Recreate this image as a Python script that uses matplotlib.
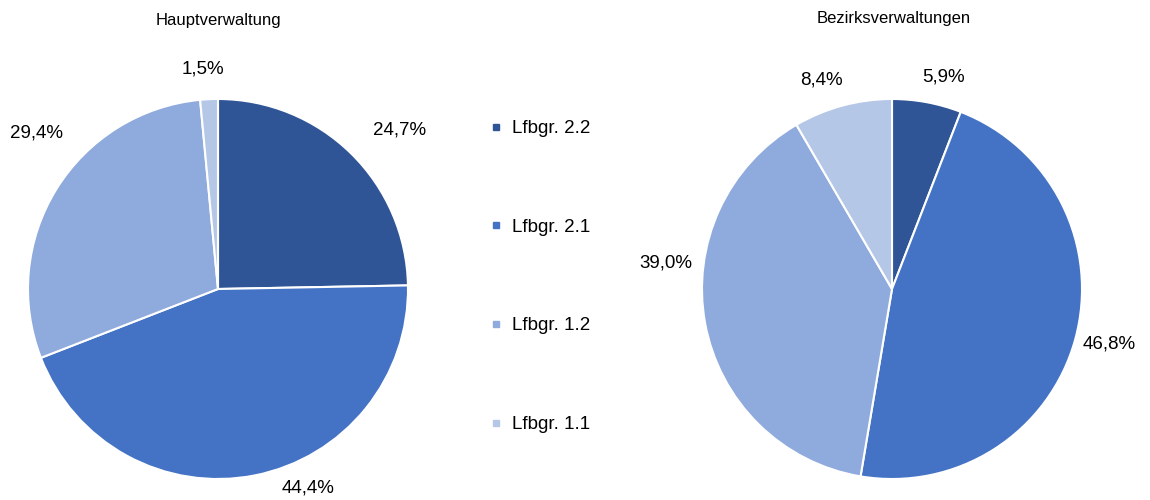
import numpy as np
import matplotlib
matplotlib.use('Agg')
import matplotlib.pyplot as plt
from matplotlib.lines import Line2D

plt.rcParams['font.family'] = ['Liberation Sans', 'DejaVu Sans']

categories = ['Lfbgr. 2.2', 'Lfbgr. 2.1', 'Lfbgr. 1.2', 'Lfbgr. 1.1']
haupt_values = [24.7, 44.4, 29.4, 1.5]
bezirk_values = [5.9, 46.8, 39.0, 8.4]
titles = ['Hauptverwaltung', 'Bezirksverwaltungen']

colors = ['#2F5597', '#4472C4', '#8FAADC', '#B4C7E7']

# label placement tweaks (angle offset in deg, radial distance) per slice
haupt_label_pos = [(-4.4, 1.27), (13.1, 1.15), (-8.9, 1.26), (1.1, 1.16)]
bezirk_label_pos = [(-3.1, 1.15), (1.1, 1.18), (-16.9, 1.2), (3.5, 1.16)]


def fmt(v):
    return '{:.1f}%'.format(v).replace('.', ',')


def draw_pie(ax, values, label_pos):
    wedges, _ = ax.pie(values, colors=colors, startangle=90, counterclock=False,
                       wedgeprops={'edgecolor': 'white', 'linewidth': 1.5})
    for w, v, (off, dist) in zip(wedges, values, label_pos):
        ang = np.deg2rad((w.theta1 + w.theta2) / 2 + off)
        ax.text(dist * np.cos(ang), dist * np.sin(ang), fmt(v), fontsize=13.5,
                ha='center', va='center', color='#000000', clip_on=False)
    ax.set_xlim(-1, 1)
    ax.set_ylim(-1, 1)
    ax.set_aspect('equal')


fig = plt.figure(figsize=(11.5, 5), dpi=100)

ax1 = fig.add_axes([28 / 1150, 21 / 500, 380 / 1150, 380 / 500])
draw_pie(ax1, haupt_values, haupt_label_pos)

ax2 = fig.add_axes([702 / 1150, 21 / 500, 380 / 1150, 380 / 500])
draw_pie(ax2, bezirk_values, bezirk_label_pos)

fig.text(218 / 1150, 1 - 21 / 500, titles[0], ha='center', va='center', fontsize=12)
fig.text(894 / 1150, 1 - 19 / 500, titles[1], ha='center', va='center', fontsize=12)

handles = [Line2D([0], [0], marker='s', linestyle='none', markersize=5,
                  markerfacecolor=c, markeredgecolor=c) for c in colors]
fig.legend(handles, categories, loc='upper left', bbox_to_anchor=(490 / 1150, 1 - 120 / 500),
           frameon=False, fontsize=13.5, labelspacing=4.35, handlelength=0.6,
           handletextpad=0.6, borderpad=0, borderaxespad=0)

fig.savefig('out.png', dpi=100, facecolor='white')
